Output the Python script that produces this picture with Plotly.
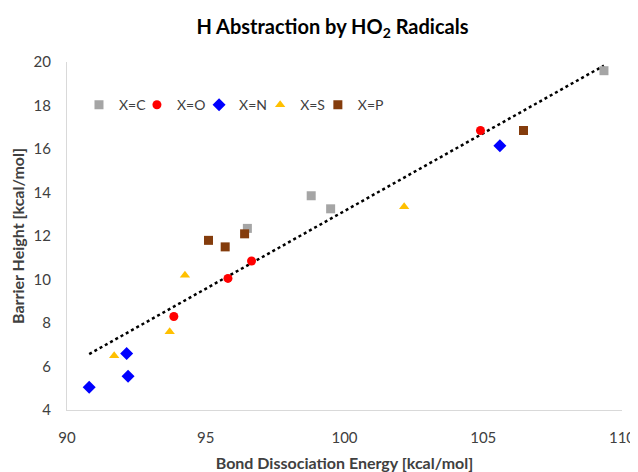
import numpy as np
import plotly.graph_objects as go

# Data (Bond Dissociation Energy, Barrier Height) in kcal/mol
c_x = [96.5, 98.8, 99.5, 109.35]
c_y = [12.35, 13.85, 13.25, 19.6]
o_x = [93.85, 95.8, 96.65, 104.9]
o_y = [8.3, 10.05, 10.85, 16.85]
n_x = [90.8, 92.15, 92.2, 105.6]
n_y = [5.05, 6.6, 5.55, 16.15]
s_x = [91.7, 93.7, 94.25, 102.15]
s_y = [6.5, 7.6, 10.2, 13.35]
p_x = [95.1, 95.7, 96.4, 106.45]
p_y = [11.8, 11.5, 12.1, 16.85]

x_ticks = [90, 95, 100, 105, 110]
y_ticks = [4, 6, 8, 10, 12, 14, 16, 18, 20]

series = [
    ("X=C", c_x, c_y, "#A5A5A5", "square", 9),
    ("X=O", o_x, o_y, "#FF0000", "circle", 9),
    ("X=N", n_x, n_y, "#0000FF", "diamond", 10),
    ("X=S", s_x, s_y, "#FFC000", "triangle-up", 9),
    ("X=P", p_x, p_y, "#843C0C", "square", 9),
]
legend_x = [0.0216, 0.126, 0.238, 0.348, 0.452]

fig = go.Figure()

all_x = np.array(c_x + o_x + n_x + s_x + p_x)
all_y = np.array(c_y + o_y + n_y + s_y + p_y)
slope, intercept = np.polyfit(all_x, all_y, 1)
tx = np.array([all_x.min(), all_x.max()])
fig.add_trace(go.Scatter(x=tx, y=slope * tx + intercept, mode="lines",
                         line=dict(color="#000000", width=2.5, dash="dot"),
                         showlegend=False, hoverinfo="skip"))

legend_layouts = {}
for i, (name, xs, ys, col, sym, sz) in enumerate(series):
    lg = "legend" if i == 0 else f"legend{i + 1}"
    fig.add_trace(go.Scatter(x=xs, y=ys, mode="markers", name=name, legend=lg,
                             marker=dict(color=col, symbol=sym, size=sz, line=dict(width=0))))
    legend_layouts[lg] = dict(x=legend_x[i], xanchor="left", y=0.876, yanchor="middle",
                              orientation="h", font=dict(size=14, color="#404040"),
                              bgcolor="rgba(0,0,0,0)", itemwidth=30)

font = "Lato"
fig.update_layout(
    width=630, height=464,
    margin=dict(l=59, r=16, t=54, b=62, autoexpand=False),
    paper_bgcolor="white", plot_bgcolor="white",
    font=dict(family=font, size=13, color="#404040"),
    title=dict(text="<b>H Abstraction by HO<sub>2</sub> Radicals</b>", x=0.515, xanchor="center",
               y=0.959, yanchor="middle", font=dict(size=20, color="#000000")),
    showlegend=True,
    **legend_layouts,
)
fig.update_xaxes(range=[90, 110], tickvals=x_ticks, showgrid=False, zeroline=False,
                 showline=True, linecolor="#D9D9D9", linewidth=1, automargin=False,
                 ticks="outside", ticklen=14, tickcolor="rgba(0,0,0,0)",
                 tickfont=dict(size=15, color="#404040"),
                 title=dict(text="<b>Bond Dissociation Energy [kcal/mol]</b>", standoff=12,
                            font=dict(size=16, color="#404040")))
fig.update_yaxes(range=[4, 20], tickvals=y_ticks, showgrid=False, zeroline=False,
                 showline=True, linecolor="#D9D9D9", linewidth=1, automargin=False,
                 ticks="outside", ticklen=12, tickcolor="rgba(0,0,0,0)",
                 tickfont=dict(size=15, color="#404040"),
                 title=dict(text="<b>Barrier Height [kcal/mol]</b>", standoff=16,
                            font=dict(size=16, color="#404040")))

fig.write_html("out.html")
